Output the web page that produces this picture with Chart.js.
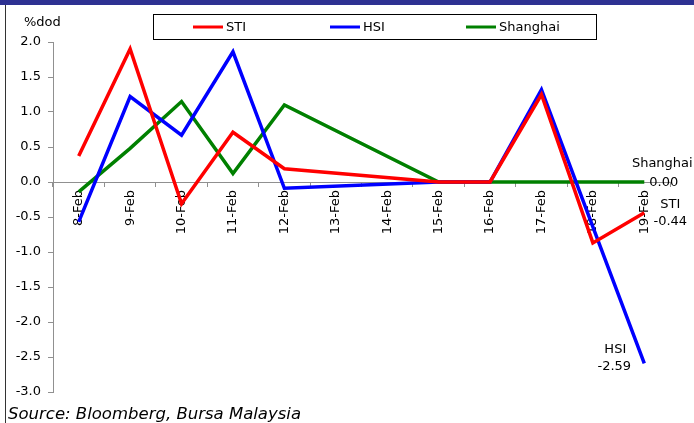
<!DOCTYPE html>
<html>
<head>
<meta charset="utf-8">
<script src="https://cdn.jsdelivr.net/npm/chart.js@4.4.1/dist/chart.umd.min.js"></script>
<style>
  html, body { margin: 0; padding: 0; background: #ffffff; }
  #wrap { position: relative; width: 694px; height: 423px; }
  canvas { display: block; }
</style>
</head>
<body>
<div id="wrap"><canvas id="c" width="694" height="423"></canvas></div>
<script>
// Daily % change (day on day) of three regional indices
const days = ['8-Feb', '9-Feb', '10-Feb', '11-Feb', '12-Feb', '13-Feb', '14-Feb',
              '15-Feb', '16-Feb', '17-Feb', '18-Feb', '19-Feb'];
const sti      = [0.37, 1.90, -0.31, 0.71, 0.19, null, null, 0.00, 0.00, 1.25, -0.87, -0.44];
const hsi      = [-0.57, 1.22, 0.67, 1.86, -0.09, null, null, 0.00, 0.00, 1.32, -0.64, -2.59];
const shanghai = [-0.14, 0.48, 1.15, 0.12, 1.10, null, null, 0.00, 0.00, 0.00, 0.00, 0.00];
const seriesNames = ['STI', 'HSI', 'Shanghai'];
const seriesColors = ['#ff0000', '#0000ff', '#008000'];
const yTicks = [2.0, 1.5, 1.0, 0.5, 0.0, -0.5, -1.0, -1.5, -2.0, -2.5, -3.0];

const FONT = '"DejaVu Sans", Verdana, sans-serif';

// Page frame, header band, legend box, unit label, end labels and source line
const decor = {
  id: 'decor',
  beforeDraw(chart) {
    const ctx = chart.ctx;
    ctx.save();
    ctx.fillStyle = '#ffffff';
    ctx.fillRect(0, 0, chart.width, chart.height);
    ctx.fillStyle = '#2e3192';
    ctx.fillRect(0, 0, chart.width, 5);
    ctx.strokeStyle = '#333333';
    ctx.lineWidth = 1;
    ctx.beginPath();
    ctx.moveTo(5.5, 5);
    ctx.lineTo(5.5, chart.height);
    ctx.stroke();
    ctx.restore();
  },
  afterDraw(chart) {
    const ctx = chart.ctx;
    const x = chart.scales.x, y = chart.scales.y;
    ctx.save();
    ctx.fillStyle = '#000000';
    ctx.font = '13px ' + FONT;
    ctx.textBaseline = 'middle';

    // unit label
    ctx.textAlign = 'left';
    ctx.fillText('%dod', 24, 23);

    // legend
    ctx.strokeStyle = '#000000';
    ctx.lineWidth = 1;
    ctx.strokeRect(153.5, 14.5, 443, 25);
    const legendX = [193, 330, 466];
    chart.data.datasets.forEach((ds, i) => {
      ctx.strokeStyle = ds.borderColor;
      ctx.lineWidth = 3;
      ctx.beginPath();
      ctx.moveTo(legendX[i], 27);
      ctx.lineTo(legendX[i] + 30, 27);
      ctx.stroke();
      ctx.fillStyle = '#000000';
      ctx.fillText(ds.label, legendX[i] + 33, 27.5);
    });

    // labels at the last point of each series
    const last = days.length - 1;
    const px = x.getPixelForValue(last);
    const fmt = v => v.toFixed(2);
    ctx.fillStyle = '#000000';
    // Shanghai
    const shY = y.getPixelForValue(shanghai[last]);
    ctx.textAlign = 'center';
    ctx.fillText(seriesNames[2], px + 18, shY - 18);
    ctx.textAlign = 'left';
    ctx.fillText(fmt(shanghai[last]), px + 5, shY + 0.5);
    // STI
    const stY = y.getPixelForValue(sti[last]);
    ctx.textAlign = 'center';
    ctx.fillText(seriesNames[0], px + 26, stY - 8);
    ctx.fillText(fmt(sti[last]), px + 26, stY + 9);
    // HSI
    const hsY = y.getPixelForValue(hsi[last]);
    ctx.fillText(seriesNames[1], px - 29, hsY - 14);
    ctx.fillText(fmt(hsi[last]), px - 30, hsY + 3);

    // source
    ctx.textAlign = 'left';
    ctx.textBaseline = 'alphabetic';
    ctx.font = 'italic 16.5px ' + FONT;
    ctx.fillText('Source: Bloomberg, Bursa Malaysia', 8, 419);
    ctx.restore();
  }
};

const mkSet = (i, data) => ({
  label: seriesNames[i],
  data: data,
  borderColor: seriesColors[i],
  backgroundColor: seriesColors[i],
  borderWidth: 3.5,
  pointRadius: 0,
  pointHoverRadius: 0,
  tension: 0,
  spanGaps: true,
  borderJoinStyle: 'miter'
});

new Chart(document.getElementById('c'), {
  type: 'line',
  data: {
    labels: days,
    datasets: [mkSet(0, sti), mkSet(1, hsi), mkSet(2, shanghai)]
  },
  options: {
    responsive: false,
    animation: false,
    devicePixelRatio: 1,
    layout: { padding: { left: 0, right: 24, top: 42, bottom: 31 } },
    plugins: { legend: { display: false }, tooltip: { enabled: false } },
    scales: {
      x: {
        type: 'category',
        position: { y: 0 },
        offset: true,
        afterFit: s => { s.height = 0; },
        border: { display: true, color: '#909090', width: 1 },
        grid: { display: true, drawOnChartArea: false, drawTicks: true, tickLength: 4, offset: true, color: '#909090' },
        ticks: {
          autoSkip: false,
          maxRotation: 90,
          minRotation: 90,
          padding: 4,
          color: '#000000',
          font: { family: FONT, size: 13 }
        }
      },
      y: {
        min: -3,
        max: 2,
        afterFit: s => { s.width = 53; },
        afterBuildTicks: s => { s.ticks = yTicks.map(v => ({ value: v })); },
        border: { display: true, color: '#909090', width: 1 },
        grid: { display: true, drawOnChartArea: false, drawTicks: true, tickLength: 5, color: '#909090' },
        ticks: {
          padding: 7,
          color: '#000000',
          font: { family: FONT, size: 13 },
          callback: v => Number(v).toFixed(1)
        }
      }
    }
  },
  plugins: [decor]
});
</script>
</body>
</html>
